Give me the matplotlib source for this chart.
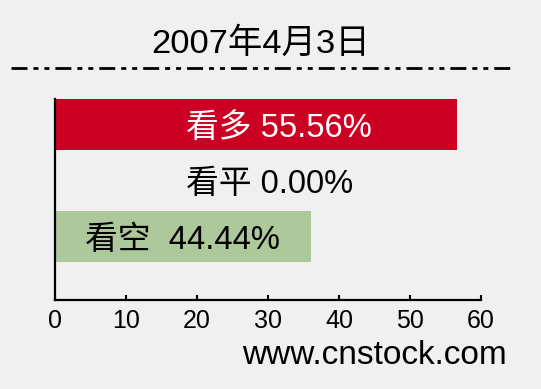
import matplotlib
matplotlib.use("Agg")
import matplotlib.pyplot as plt
from matplotlib.lines import Line2D
from matplotlib.transforms import ScaledTranslation

plt.rcParams["font.family"] = ["Liberation Sans", "Noto Sans CJK SC", "DejaVu Sans"]

# data (bottom to top)
categories = ["看空", "看平", "看多"]
percents = [44.44, 0.00, 55.56]
bar_lengths = [36.1, 0.0, 56.6]
bar_colors = ["#adc99c", "#adc99c", "#cc0022"]
label_colors = ["black", "black", "white"]
label_gaps = ["  ", " ", " "]
xticks = [0, 10, 20, 30, 40, 50, 60]
title = "2007年4月3日"
source = "www.cnstock.com"

W, H = 541, 389
bg = "#f0f0f0"
fig = plt.figure(figsize=(W / 100, H / 100), dpi=100, facecolor=bg)
ax = fig.add_axes([55 / W, 1 - 300 / H, (481 - 55) / W, (300 - 99) / H], facecolor=bg)

ypos = list(range(len(categories)))
ax.barh(ypos, bar_lengths, height=0.91, color=bar_colors, edgecolor="none", zorder=2)

# label x start (data units) and baseline offset from bar centre (pixels)
label_x = [4.2, 18.45, 18.45]
for i, (cat, pct) in enumerate(zip(categories, percents)):
    tr = ax.transData + ScaledTranslation(0, -12 / 100, fig.dpi_scale_trans)
    ax.text(label_x[i], ypos[i], f"{cat}{label_gaps[i]}{pct:.2f}%",
            color=label_colors[i], fontsize=23.6, ha="left", va="baseline",
            transform=tr, zorder=3)

ax.set_xlim(0, 60)
ax.set_ylim(-1.125, 2.46)
ax.set_xticks(xticks)
ax.set_yticks([])
for side in ("top", "right"):
    ax.spines[side].set_visible(False)
for side in ("left", "bottom"):
    ax.spines[side].set_linewidth(1.6)
    ax.spines[side].set_color("black")
ax.tick_params(axis="x", direction="in", length=3.5, width=1.5,
               labelsize=18, pad=6.5, colors="black")

fig.text(261 / W, 1 - 53 / H, title, fontsize=24.8, ha="center", va="baseline")
fig.text(507 / W, 1 - 364 / H, source, fontsize=24, ha="right", va="baseline")

plt.rcParams["lines.scale_dashes"] = False
sep = Line2D([11 / W, 510 / W], [1 - 68 / H, 1 - 68 / H], transform=fig.transFigure,
             color="black", linewidth=2.0, dash_capstyle="butt",
             linestyle=(0, (11.5, 4.3, 3.6, 4.3, 3.6, 4.3)))
fig.add_artist(sep)

fig.savefig("out.png", dpi=100, facecolor=bg)
